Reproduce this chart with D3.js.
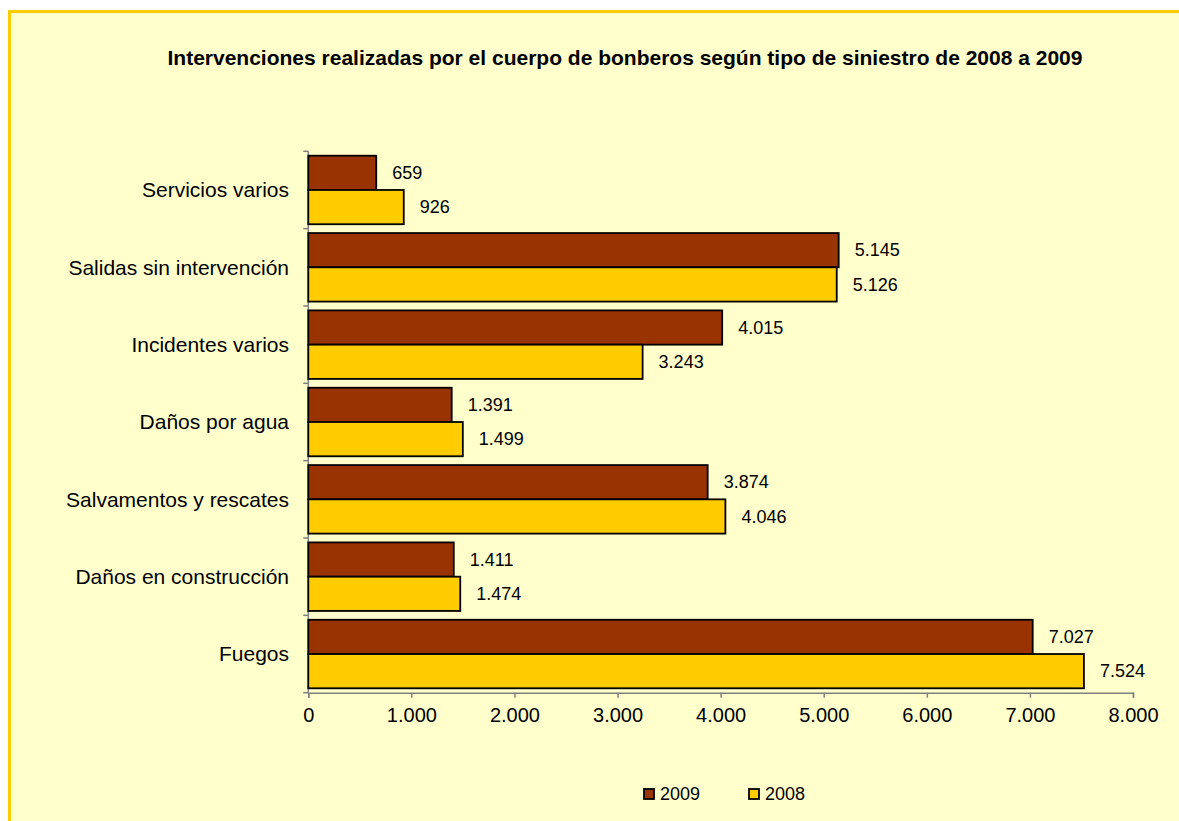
<!DOCTYPE html>
<html>
<head>
<meta charset="utf-8">
<script src="https://cdn.jsdelivr.net/npm/d3@7"></script>
<style>
  html, body { margin: 0; padding: 0; background: #ffffff; }
  svg { display: block; font-family: "Liberation Sans", Arial, sans-serif; }
</style>
</head>
<body>
<svg id="chart" width="1179" height="821"></svg>
<script>
const title = "Intervenciones realizadas por el cuerpo de bonberos según tipo de siniestro de 2008 a 2009";
const categories = ["Servicios varios", "Salidas sin intervención", "Incidentes varios", "Daños por agua", "Salvamentos y rescates", "Daños en construcción", "Fuegos"];
const seriesNames = ["2009", "2008"];
const values2009 = [659, 5145, 4015, 1391, 3874, 1411, 7027];
const values2008 = [926, 5126, 3243, 1499, 4046, 1474, 7524];
const xTicks = [0, 1000, 2000, 3000, 4000, 5000, 6000, 7000, 8000];
const colors = ["#993300", "#FFCC00"];

const locale = d3.formatLocale({decimal: ",", thousands: ".", grouping: [3], currency: ["", "€"]});
const fmt = locale.format(",d");

const svg = d3.select("#chart");
const W = 1179, H = 821;

// background frame
svg.append("rect").attr("x", 9.5).attr("y", 11.5).attr("width", W + 20).attr("height", H + 20)
  .attr("fill", "#FFFFCC").attr("stroke", "#FFCC00").attr("stroke-width", 3);

// title
svg.append("text").attr("x", 625).attr("y", 65).attr("text-anchor", "middle")
  .attr("font-weight", "bold").attr("font-size", "21px").attr("fill", "#000").text(title);

const m = {left: 308.3, right: 1133, top: 151.3, bottom: 692.7};
const x = d3.scaleLinear().domain([0, 8000]).range([m.left, m.right]);
const y = d3.scaleBand().domain(categories).range([m.top, m.bottom]).padding(0);
const ys = d3.scaleBand().domain(seriesNames).range([y.bandwidth() * 0.057, y.bandwidth() * 0.943]).padding(0);

const data = categories.map((c, i) => ({cat: c, vals: [
  {s: seriesNames[0], v: values2009[i], color: colors[0]},
  {s: seriesNames[1], v: values2008[i], color: colors[1]}
]}));

// axes
const xAxis = d3.axisBottom(x).tickValues(xTicks).tickSize(5).tickPadding(10).tickFormat(d => fmt(d));
const gx = svg.append("g").attr("transform", `translate(0,${m.bottom})`).call(xAxis);
gx.select(".domain").attr("stroke", "#808080").attr("stroke-width", 1.5);
gx.selectAll(".tick line").attr("stroke", "#808080").attr("stroke-width", 1.5);
gx.selectAll(".tick text").attr("font-size", "20px").attr("fill", "#000")
  .attr("font-family", "Liberation Sans, Arial, sans-serif");

// y axis line with ticks at band boundaries
const gy = svg.append("g");
gy.append("line").attr("x1", m.left).attr("x2", m.left).attr("y1", m.top).attr("y2", m.bottom)
  .attr("stroke", "#808080").attr("stroke-width", 1.5);
const bounds = categories.map(c => y(c)).concat([m.bottom]);
gy.selectAll("line.tk").data(bounds).join("line").attr("class", "tk")
  .attr("x1", m.left - 5).attr("x2", m.left).attr("y1", d => d).attr("y2", d => d)
  .attr("stroke", "#808080").attr("stroke-width", 1.5);
gy.selectAll("text.cat").data(categories).join("text").attr("class", "cat")
  .attr("x", 289).attr("y", d => y(d) + y.bandwidth() / 2).attr("dy", "0.35em")
  .attr("text-anchor", "end").attr("font-size", "21px").attr("fill", "#000").text(d => d);

// bars
const groups = svg.selectAll("g.grp").data(data).join("g").attr("class", "grp")
  .attr("transform", d => `translate(0,${y(d.cat)})`);
groups.selectAll("rect").data(d => d.vals).join("rect")
  .attr("x", x(0)).attr("y", d => ys(d.s)).attr("width", d => x(d.v) - x(0)).attr("height", ys.bandwidth())
  .attr("fill", d => d.color).attr("stroke", "#000").attr("stroke-width", 1.8);
groups.selectAll("text").data(d => d.vals).join("text")
  .attr("x", d => x(d.v) + 16).attr("y", d => ys(d.s) + ys.bandwidth() / 2).attr("dy", "0.35em")
  .attr("font-size", "18px").attr("fill", "#000").text(d => fmt(d.v));

// legend
const legend = svg.append("g");
const lx = [644, 749];
seriesNames.forEach((s, i) => {
  legend.append("rect").attr("x", lx[i]).attr("y", 789).attr("width", 10).attr("height", 10)
    .attr("fill", colors[i]).attr("stroke", "#000").attr("stroke-width", 1.8);
  legend.append("text").attr("x", lx[i] + 16).attr("y", 794).attr("dy", "0.35em")
    .attr("font-size", "18px").attr("fill", "#000").text(s);
});
</script>
</body>
</html>
